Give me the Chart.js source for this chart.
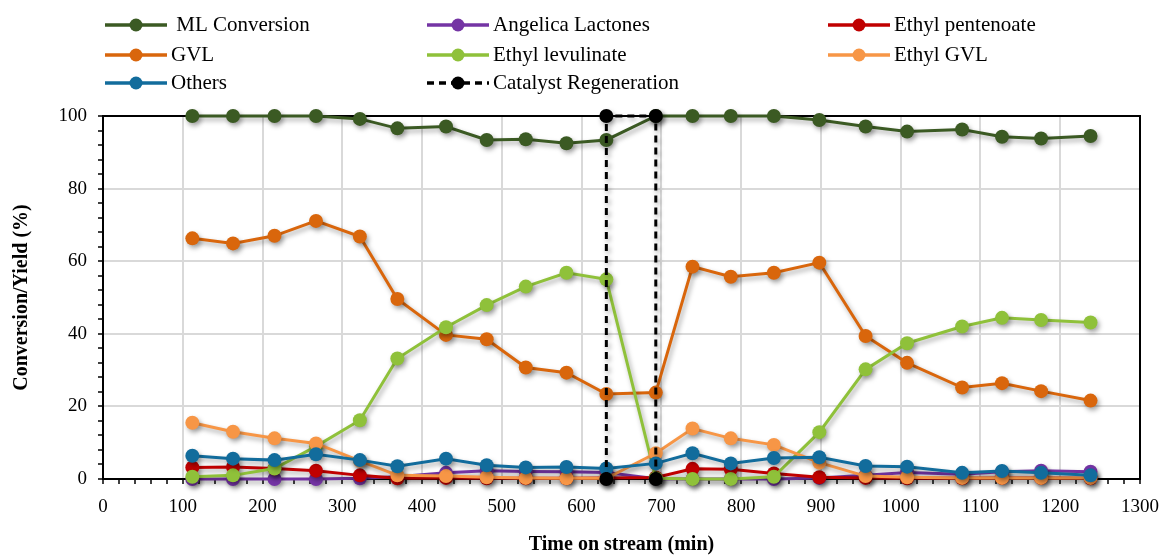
<!DOCTYPE html>
<html>
<head>
<meta charset="utf-8">
<script src="https://cdn.jsdelivr.net/npm/chart.js@4.4.1/dist/chart.umd.min.js"></script>
<style>
  html, body { margin: 0; padding: 0; background: #fff; }
  #wrap { width: 1165px; height: 556px; position: relative; }
</style>
</head>
<body>
<div id="wrap"><canvas id="chart"></canvas></div>
<script>
// time on stream (min)
const timeMin = [112, 163, 215, 267, 322, 369, 430, 481, 530, 581, 631, 693, 739, 787, 841, 898, 956, 1008, 1077, 1127, 1176, 1238];

const mlConversion = [100, 100, 100, 100, 99.2, 96.6, 97.1, 93.4, 93.6, 92.5, 93.4, 100, 100, 100, 100, 98.9, 97.1, 95.7, 96.3, 94.3, 93.8, 94.5];
const angelicaLactones = [0, 0, 0, 0, 0.2, 0.6, 1.7, 2.3, 2.1, 2.0, 1.8, 0.1, 0, 0, 0, 0.3, 1.0, 1.8, 1.3, 2.0, 2.3, 2.0];
const ethylPentenoate = [3.2, 3.3, 2.9, 2.3, 1.0, 0.2, 0.3, 0.2, 0.2, 0.2, 0.3, 0.4, 2.8, 2.7, 1.5, 0.5, 0.3, 0.2, 0.2, 0.3, 0.3, 0.2];
const gvl = [66.3, 64.9, 67.0, 71.1, 66.8, 49.6, 39.7, 38.5, 30.7, 29.3, 23.4, 23.8, 58.5, 55.7, 56.8, 59.6, 39.4, 32.0, 25.2, 26.4, 24.2, 21.6];
const ethylLevulinate = [0.6, 1.0, 2.9, 9.0, 16.2, 33.2, 41.8, 47.9, 53.0, 56.8, 55.0, 0.2, 0, 0, 0.6, 12.9, 30.2, 37.4, 42.0, 44.4, 43.8, 43.1];
const ethylGvl = [15.5, 13.0, 11.2, 9.8, 5.0, 1.0, 0.8, 0.5, 0.3, 0.2, 0.2, 7.1, 13.9, 11.2, 9.4, 4.5, 0.8, 0.5, 0.3, 0.3, 0.3, 0.3];
const others = [6.4, 5.6, 5.2, 6.8, 5.2, 3.5, 5.6, 3.8, 3.2, 3.3, 2.9, 4.3, 7.1, 4.3, 5.8, 6.0, 3.6, 3.4, 1.7, 2.2, 1.7, 1.0];

// catalyst regeneration marker
const regenTime = [631, 631, 693, 693];
const regenValue = [0, 100, 100, 0];

const xTicks = { min: 0, max: 1300, step: 20, labelEvery: 100 };
const yTicks = { min: 0, max: 100, step: 4, labelEvery: 20 };

const FONT = '"Liberation Serif", "Times New Roman", serif';

const pts = (xs, ys) => xs.map((x, i) => ({ x: x, y: ys[i] }));

function series(label, ys, color, order) {
  return {
    label: label,
    data: pts(timeMin, ys),
    borderColor: color,
    backgroundColor: color,
    pointBackgroundColor: color,
    pointBorderColor: color,
    pointBorderWidth: 0,
    borderWidth: 3,
    pointRadius: 7,
    pointHoverRadius: 7,
    showLine: true,
    tension: 0,
    order: order,
    clip: false
  };
}

// legend order (Excel style), later series drawn on top
const datasets = [
  series(' ML Conversion', mlConversion, '#3b5a23', 8),
  series('Angelica Lactones', angelicaLactones, '#7434a4', 7),
  series('Ethyl pentenoate', ethylPentenoate, '#c00000', 6),
  series('GVL', gvl, '#d9660c', 5),
  series('Ethyl levulinate', ethylLevulinate, '#8fc13a', 4),
  series('Ethyl GVL', ethylGvl, '#f79646', 3),
  series('Others', others, '#126c9c', 2),
  {
    label: 'Catalyst Regeneration',
    data: pts(regenTime, regenValue),
    borderColor: '#000',
    backgroundColor: '#000',
    pointBackgroundColor: '#000',
    pointBorderColor: '#000',
    pointBorderWidth: 0,
    borderWidth: 3,
    borderDash: [7, 5],
    pointRadius: 7,
    showLine: true,
    order: 1,
    clip: false
  }
];

// legend laid out as a 3-column grid
const legendCols = [105, 427, 828];
const legendRows = [25, 55, 83];

const framePlugin = {
  id: 'frameAndShadow',
  beforeDatasetsDraw(chart) {
    const { ctx, chartArea: a } = chart;
    ctx.save();
    ctx.strokeStyle = '#000';
    ctx.lineWidth = 2;
    ctx.beginPath();
    ctx.moveTo(a.left, a.top);
    ctx.lineTo(a.right, a.top);
    ctx.lineTo(a.right, a.bottom);
    ctx.stroke();
    ctx.restore();
    ctx.save();
    ctx.shadowColor = 'rgba(0,0,0,0.35)';
    ctx.shadowBlur = 5;
    ctx.shadowOffsetX = 2;
    ctx.shadowOffsetY = 3;
  },
  afterDatasetsDraw(chart) {
    chart.ctx.restore();
  }
};

const gridLegend = {
  id: 'gridLegend',
  afterDraw(chart) {
    const ctx = chart.ctx;
    ctx.save();
    chart.data.datasets.forEach((ds, i) => {
      const x0 = legendCols[i % 3];
      const y = legendRows[Math.floor(i / 3)];
      ctx.strokeStyle = ds.borderColor;
      ctx.lineWidth = 3.3;
      ctx.setLineDash(ds.borderDash || []);
      ctx.beginPath();
      ctx.moveTo(x0, y);
      ctx.lineTo(x0 + 62, y);
      ctx.stroke();
      ctx.setLineDash([]);
      ctx.fillStyle = ds.borderColor;
      ctx.beginPath();
      ctx.arc(x0 + 31, y, 6.5, 0, Math.PI * 2);
      ctx.fill();
      ctx.fillStyle = '#000';
      ctx.font = '21px ' + FONT;
      ctx.textBaseline = 'middle';
      ctx.textAlign = 'left';
      ctx.fillText(ds.label, x0 + 66, y);
    });
    ctx.restore();
  }
};

new Chart(document.getElementById('chart'), {
  type: 'scatter',
  data: { datasets: datasets },
  options: {
    responsive: true,
    maintainAspectRatio: false,
    animation: false,
    events: [],
    layout: { padding: { top: 116, right: 25, bottom: 0, left: 0 } },
    plugins: {
      legend: { display: false },
      tooltip: { enabled: false }
    },
    scales: {
      x: {
        type: 'linear',
        min: xTicks.min,
        max: xTicks.max,
        afterFit(scale) {
          scale.height = 77;
          scale.paddingLeft = 0;
          scale.paddingRight = 0;
        },
        ticks: {
          stepSize: xTicks.step,
          autoSkip: false,
          maxRotation: 0,
          padding: 12,
          color: '#000',
          font: { family: FONT, size: 19 },
          callback: v => (v % xTicks.labelEvery === 0 ? v : '')
        },
        grid: {
          color: c => (c.tick && c.tick.value % 100 === 0 && c.tick.value > 0 && c.tick.value < 1300 ? '#d9d9d9' : 'rgba(0,0,0,0)'),
          lineWidth: 2,
          tickColor: '#000',
          tickLength: 5,
          tickWidth: 1.5
        },
        border: { color: '#000', width: 2 },
        title: {
          display: true,
          text: 'Time on stream (min)',
          color: '#000',
          font: { family: FONT, size: 20, weight: 'bold' },
          padding: { top: 0, bottom: -1 }
        }
      },
      y: {
        min: yTicks.min,
        max: yTicks.max,
        afterFit(scale) { scale.width = 103; },
        ticks: {
          stepSize: yTicks.step,
          autoSkip: false,
          padding: 11,
          color: '#000',
          font: { family: FONT, size: 19 },
          callback: v => (v % yTicks.labelEvery === 0 ? v : '')
        },
        grid: {
          color: c => (c.tick && c.tick.value % 20 === 0 && c.tick.value > 0 && c.tick.value < 100 ? '#d9d9d9' : 'rgba(0,0,0,0)'),
          lineWidth: 2,
          tickColor: '#000',
          tickLength: 5,
          tickWidth: 1.5
        },
        border: { color: '#000', width: 2 },
        title: {
          display: true,
          text: 'Conversion/Yield (%)',
          color: '#000',
          font: { family: FONT, size: 20, weight: 'bold' },
          padding: { top: 10, bottom: 0 }
        }
      }
    }
  },
  plugins: [framePlugin, gridLegend]
});
</script>
</body>
</html>
